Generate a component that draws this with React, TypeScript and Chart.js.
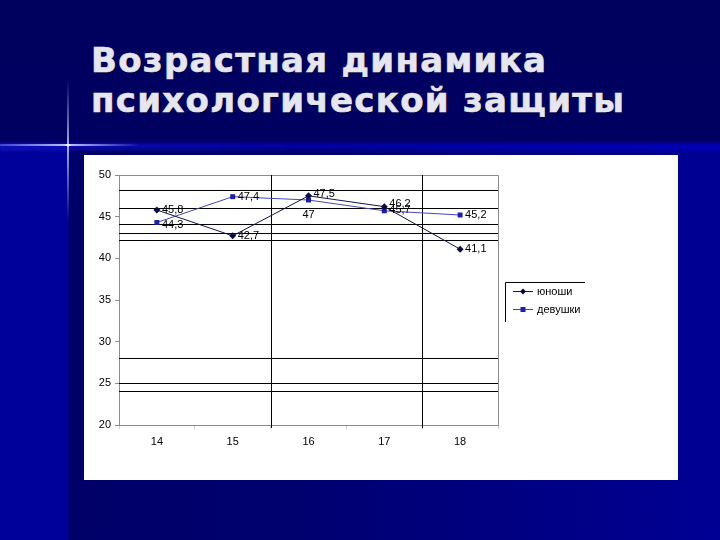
import React, { useEffect, useRef } from "react";
import { Chart, registerables } from "chart.js";

Chart.register(...registerables);

// ---- data ----
const categories = ["14", "15", "16", "17", "18"];
const boysValues = [45.8, 42.7, 47.5, 46.2, 41.1];
const girlsValues = [44.3, 47.4, 47, 45.7, 45.2];
const seriesNames = ["юноши", "девушки"];
const yTickValues = [20, 25, 30, 35, 40, 45, 50];
// extra horizontal rules seen across the plot (value units)
const extraRuleValues = [48.2, 46.1, 44.1, 43.1, 42.2, 28, 25, 24.1];
// vertical rules at category boundaries (index units)
const boundaryRules = [1.5, 3.5];
const titleLines = ["Возрастная динамика", "психологической защиты"];

// label placement (style, not data)
const boysLabelPlace = [
  { pos: "right", dy: 0 },
  { pos: "right", dy: 0 },
  { pos: "right", dy: -2 },
  { pos: "right", dy: -3 },
  { pos: "right", dy: 0 },
];
const girlsLabelPlace = [
  { pos: "right", dy: 2 },
  { pos: "right", dy: 0 },
  { pos: "below", dy: 0 },
  { pos: "right", dy: -1 },
  { pos: "right", dy: 0 },
];

const FONT = "'Liberation Sans', Arial, sans-serif";
const BOYS_LINE = "#14144e";
const BOYS_MARK = "#0a0a48";
const GIRLS_LINE = "#4646bc";
const GIRLS_MARK = "#1c1cb0";

const fmt = (v: number) => String(v).replace(".", ",");

const overlayPlugin = {
  id: "overlay",
  beforeDatasetsDraw(chart: any) {
    const { ctx, chartArea } = chart;
    const x = chart.scales.x;
    const y = chart.scales.y;
    ctx.save();
    // top & right border
    ctx.strokeStyle = "#8c8c8c";
    ctx.lineWidth = 1;
    ctx.beginPath();
    const t = Math.round(chartArea.top) + 0.5;
    const r = Math.round(chartArea.right) + 0.5;
    ctx.moveTo(chartArea.left, t);
    ctx.lineTo(r, t);
    ctx.lineTo(r, chartArea.bottom);
    ctx.stroke();
    // extra horizontal rules
    ctx.strokeStyle = "#000";
    extraRuleValues.forEach((v) => {
      const py = Math.round(y.getPixelForValue(v)) + 0.5;
      ctx.beginPath();
      ctx.moveTo(chartArea.left, py);
      ctx.lineTo(chartArea.right, py);
      ctx.stroke();
    });
    boundaryRules.forEach((b) => {
      const px = Math.round(x.getPixelForValue(b)) + 0.5;
      ctx.beginPath();
      ctx.moveTo(px, chartArea.top);
      ctx.lineTo(px, chartArea.bottom + 3);
      ctx.stroke();
    });
    ctx.restore();
  },
  afterDatasetsDraw(chart: any) {
    const { ctx } = chart;
    ctx.save();
    ctx.font = `11px ${FONT}`;
    ctx.fillStyle = "#000";
    const places = [boysLabelPlace, girlsLabelPlace];
    chart.data.datasets.forEach((ds: any, di: number) => {
      const meta = chart.getDatasetMeta(di);
      meta.data.forEach((pt: any, i: number) => {
        const p = places[di][i];
        const txt = fmt(ds.data[i]);
        if (p.pos === "below") {
          ctx.textAlign = "center";
          ctx.textBaseline = "middle";
          ctx.fillText(txt, pt.x, pt.y + 15 + p.dy);
        } else {
          ctx.textAlign = "left";
          ctx.textBaseline = "middle";
          ctx.fillText(txt, pt.x + 5, pt.y + p.dy);
        }
      });
    });
    // legend
    const lx = 421;
    const ly = 127;
    ctx.strokeStyle = "#000";
    ctx.lineWidth = 1;
    ctx.beginPath();
    ctx.moveTo(lx + 0.5, ly + 40);
    ctx.lineTo(lx + 0.5, ly + 0.5);
    ctx.lineTo(lx + 80, ly + 0.5);
    ctx.stroke();
    const entries = [
      { name: seriesNames[0], line: BOYS_LINE, mark: BOYS_MARK, shape: "diamond" },
      { name: seriesNames[1], line: GIRLS_LINE, mark: GIRLS_MARK, shape: "square" },
    ];
    entries.forEach((e, i) => {
      const ey = ly + 9 + i * 18 + 0.5;
      ctx.strokeStyle = e.line;
      ctx.beginPath();
      ctx.moveTo(lx + 8, ey);
      ctx.lineTo(lx + 28, ey);
      ctx.stroke();
      ctx.fillStyle = e.mark;
      const cx = lx + 18;
      if (e.shape === "diamond") {
        ctx.beginPath();
        ctx.moveTo(cx, ey - 3);
        ctx.lineTo(cx + 3, ey);
        ctx.lineTo(cx, ey + 3);
        ctx.lineTo(cx - 3, ey);
        ctx.closePath();
        ctx.fill();
      } else {
        ctx.fillRect(cx - 2.5, ey - 2.5, 5, 5);
      }
      ctx.fillStyle = "#000";
      ctx.textAlign = "left";
      ctx.textBaseline = "middle";
      ctx.fillText(e.name, lx + 32, ey);
    });
    ctx.restore();
  },
};

function ChartBox() {
  const ref = useRef<HTMLCanvasElement | null>(null);
  useEffect(() => {
    if (!ref.current) return;
    const chart = new Chart(ref.current, {
      type: "line",
      data: {
        labels: categories,
        datasets: [
          {
            label: seriesNames[0],
            data: boysValues,
            borderColor: BOYS_LINE,
            backgroundColor: BOYS_MARK,
            borderWidth: 1,
            pointStyle: "rectRot",
            pointRadius: 3.5,
            pointBorderWidth: 0,
            pointBackgroundColor: BOYS_MARK,
            tension: 0,
          },
          {
            label: seriesNames[1],
            data: girlsValues,
            borderColor: GIRLS_LINE,
            backgroundColor: GIRLS_MARK,
            borderWidth: 1,
            pointStyle: "rect",
            pointRadius: 3.5,
            pointBorderWidth: 0,
            pointBackgroundColor: GIRLS_MARK,
            tension: 0,
          },
        ],
      },
      options: {
        animation: false,
        responsive: false,
        devicePixelRatio: 1,
        layout: { padding: { left: 0, top: 20, right: 180, bottom: 0 } },
        plugins: { legend: { display: false }, tooltip: { enabled: false } },
        scales: {
          x: {
            type: "category",
            offset: true,
            grid: {
              display: true,
              drawOnChartArea: false,
              drawTicks: true,
              tickLength: 4,
              color: "#d0d0d0",
              offset: true,
            },
            border: { display: true, color: "#8c8c8c" },
            ticks: {
              color: "#000",
              font: { family: FONT, size: 11 },
              padding: 6,
              maxRotation: 0,
              autoSkip: false,
            },
            afterFit: (s: any) => {
              s.height = 55;
            },
          },
          y: {
            min: 20,
            max: 50,
            afterBuildTicks: (s: any) => {
              s.ticks = yTickValues.map((v) => ({ value: v }));
            },
            grid: {
              drawOnChartArea: false,
              drawTicks: true,
              tickLength: 4,
              color: "#8c8c8c",
            },
            border: { display: true, color: "#8c8c8c" },
            ticks: {
              color: "#000",
              font: { family: FONT, size: 11 },
              padding: 4,
            },
            afterFit: (s: any) => {
              s.width = 35;
            },
          },
        },
      },
      plugins: [overlayPlugin],
    } as any);
    return () => chart.destroy();
  }, []);
  return <canvas ref={ref} width={594} height={325} style={{ display: "block", width: 594, height: 325 }} />;
}

export default function App() {
  return (
    <div
      style={{
        position: "fixed",
        left: 0,
        top: 0,
        width: 720,
        height: 540,
        overflow: "hidden",
        background:
          "linear-gradient(to right, #00009a 0px, #00009a 68px, #000068 69px, #000070 300px, #000094 720px)",
      }}
    >
      {/* top dark band */}
      <div
        style={{
          position: "absolute",
          left: 0,
          top: 0,
          width: 720,
          height: 150,
          background:
            "linear-gradient(to bottom, #00005e 0px, #000062 138px, #00006c 142px, rgba(0,0,170,0.9) 146px, rgba(0,0,150,0) 150px)",
        }}
      />
      {/* brighter band under the title area */}
      <div
        style={{
          position: "absolute",
          left: 0,
          top: 143,
          width: 720,
          height: 8,
          background:
            "linear-gradient(to right, rgba(40,40,220,0.35), rgba(0,0,200,0.15) 300px, rgba(0,0,200,0.5) 720px)",
          filter: "blur(1px)",
        }}
      />
      {/* sparkle vertical */}
      <div
        style={{
          position: "absolute",
          left: 67,
          top: 80,
          width: 2,
          height: 140,
          background:
            "linear-gradient(to bottom, rgba(120,140,255,0), rgba(200,210,255,0.8) 46%, #ffffff 46.5%, rgba(200,210,255,0.8) 48%, rgba(120,140,255,0))",
        }}
      />
      {/* sparkle horizontal */}
      <div
        style={{
          position: "absolute",
          left: 0,
          top: 144,
          width: 140,
          height: 2,
          background:
            "linear-gradient(to right, rgba(100,120,255,0.5), rgba(200,210,255,0.9) 46%, #ffffff 48.5%, rgba(200,210,255,0.9) 51%, rgba(100,120,255,0))",
        }}
      />
      {/* title */}
      <div
        style={{
          position: "absolute",
          left: 91,
          top: 40,
          color: "#e6e6ee",
          fontFamily: "'DejaVu Sans', sans-serif",
          fontWeight: "bold",
          fontSize: 34,
          lineHeight: "40px",
          letterSpacing: "1.3px",
          whiteSpace: "nowrap",
          WebkitTextStroke: "0.6px #e6e6ee",
          textShadow: "1px 1px 1px rgba(0,0,30,0.6)",
        }}
      >
        {titleLines.map((l, i) => (
          <div key={i}>{l}</div>
        ))}
      </div>
      {/* chart box */}
      <div
        style={{
          position: "absolute",
          left: 84,
          top: 155,
          width: 594,
          height: 325,
          background: "#ffffff",
        }}
      >
        <ChartBox />
      </div>
    </div>
  );
}
